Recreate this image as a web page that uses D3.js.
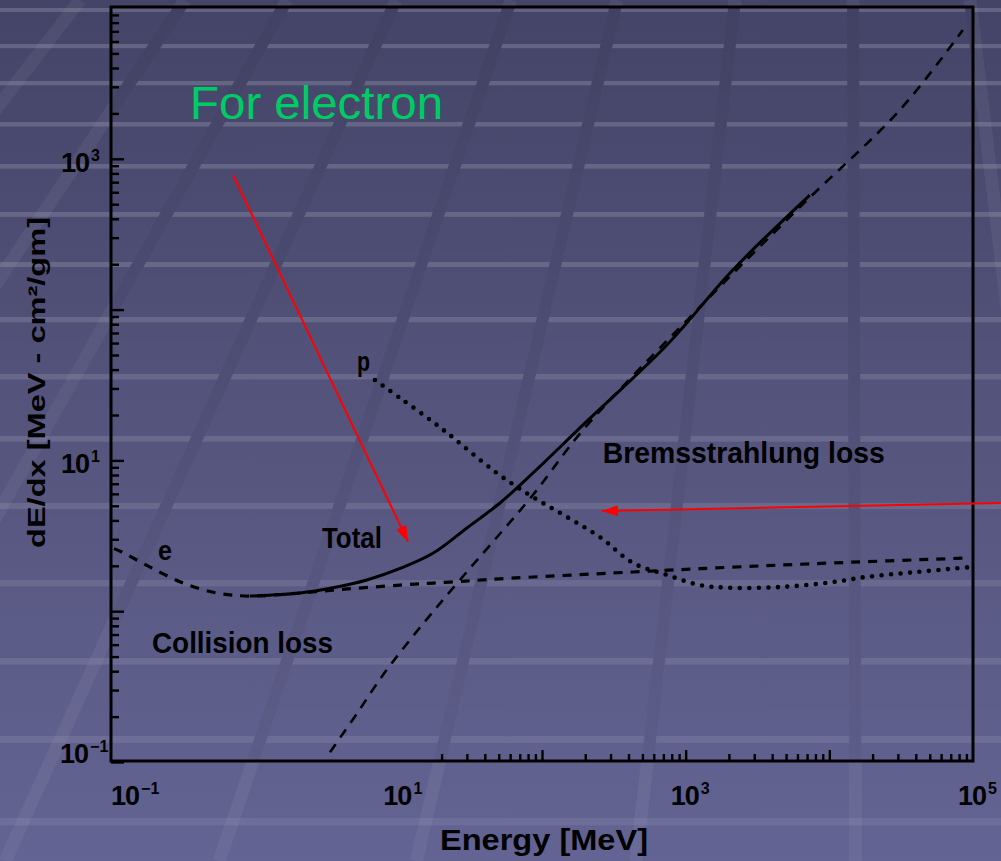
<!DOCTYPE html>
<html>
<head>
<meta charset="utf-8">
<script src="https://cdn.jsdelivr.net/npm/d3@7/dist/d3.min.js"></script>
<style>
html, body { margin: 0; padding: 0; background: #55557f; overflow: hidden; }
svg { display: block; }
</style>
</head>
<body>
<div id="chart"></div>
<script>
// energy in MeV, dE/dx in MeV cm^2/gm
var collisionE = [0.105, 0.119, 0.187, 0.317, 0.547, 0.927, 2.07, 3.51, 10.3, 22.9, 51, 430, 2130, 10600, 87700];
var collisionV = [2.6, 2.47, 1.96, 1.54, 1.32, 1.26, 1.32, 1.38, 1.49, 1.56, 1.64, 1.82, 1.96, 2.09, 2.25];

var bremsE = [3.34, 5.07, 7.82, 12.05, 17.4, 26.8, 45.5, 86.5, 193, 1256, 6240, 31000, 84900];
var bremsV = [0.116, 0.205, 0.378, 0.645, 0.989, 1.61, 2.88, 5.9, 15.9, 104, 479, 2110, 7140];

var totalE = [0.927, 2.07, 3.51, 6.04, 10.3, 17.4, 30, 51, 86.5, 193, 740, 2130, 7310];
var totalV = [1.26, 1.32, 1.43, 1.61, 1.92, 2.42, 3.56, 5.22, 8.25, 17.2, 58.2, 183, 575];

var protonE = [6.87, 10.3, 17.4, 22.9, 48.5, 86.5, 149, 253, 430, 740, 1256, 2130, 4750, 10600, 18200, 40600, 95000];
var protonV = [34.1, 25.9, 18.0, 14.7, 8.25, 5.71, 4.22, 3.10, 2.09, 1.74, 1.49, 1.43, 1.45, 1.56, 1.69, 1.82, 1.96];

var xTickExp = [-1, 1, 3, 5];
var yTickExp = [-1, 1, 3];

// curve labels [text, E, dE/dx, width]
var curveLabels = [
    ["Bremsstrahlung loss", 265, 9.6, 282],
    ["Total", 2.94, 2.62, 60],
    ["e", 0.212, 2.19, 14],
    ["Collision loss", 0.193, 0.528, 181],
    ["p", 5.15, 39.2, 13]
];

// red arrows [fromE, fromV, toE, toV]
var arrows = [
    [0.707, 781, 11.7, 2.88],
    [156000, 5.22, 261, 4.61]
];

var W = 1001, H = 861;
var x0 = 111, x1 = 973, y0 = 7, y1 = 761;

var svg = d3.select("#chart").append("svg")
    .attr("width", W)
    .attr("height", H);

var defs = svg.append("defs");

var grad = defs.append("linearGradient")
    .attr("id", "bg")
    .attr("gradientUnits", "userSpaceOnUse")
    .attr("x1", 0).attr("y1", 0).attr("x2", 0).attr("y2", H);
grad.append("stop").attr("offset", "0%").attr("stop-color", "#444468");
grad.append("stop").attr("offset", "55%").attr("stop-color", "#56567f");
grad.append("stop").attr("offset", "100%").attr("stop-color", "#646494");

svg.append("rect")
    .attr("width", W).attr("height", H)
    .attr("fill", "url(#bg)");

// slide background: light horizontal stripes
var stripeY = [10, 46, 83, 124, 166, 214, 264, 319, 376, 438, 505, 582, 660, 738, 820];
svg.append("g").selectAll("rect")
    .data(stripeY)
    .enter().append("rect")
    .attr("x", 0)
    .attr("y", function(d) { return d - 2; })
    .attr("width", W)
    .attr("height", function(d) { return 4 + d / 250; })
    .attr("fill", "#ffffff")
    .attr("opacity", function(d) { return 0.17 - d / 861 * 0.1; });

// slanted bands, darker inside the plot, lighter outside
defs.append("clipPath").attr("id", "inside")
    .append("rect").attr("x", x0).attr("y", y0).attr("width", x1 - x0).attr("height", y1 - y0);
defs.append("clipPath").attr("id", "outside")
    .append("path")
    .attr("clip-rule", "evenodd")
    .attr("d", "M0,0H" + W + "V" + H + "H0Z M" + x0 + "," + y0 + "H" + x1 + "V" + y1 + "H" + x0 + "Z");

var bandX = [-40, 80, 185, 287, 396, 511, 617, 735, 853, 970];
var vp = [850, -1000];
function bandLine(sel) {
    sel.attr("x1", function(d) { return d; })
        .attr("y1", 0)
        .attr("x2", function(d) { return d + (d - vp[0]) / (0 - vp[1]) * H; })
        .attr("y2", H);
}
var inside = svg.append("g").attr("clip-path", "url(#inside)");
inside.selectAll("line.cover").data(bandX).enter().append("line")
    .attr("class", "cover")
    .call(bandLine)
    .attr("stroke", "url(#bg)").attr("stroke-width", 12);
inside.selectAll("line.shade").data(bandX).enter().append("line")
    .attr("class", "shade")
    .call(bandLine)
    .attr("stroke", "#000000").attr("stroke-opacity", 0.04).attr("stroke-width", 12);
svg.append("g").attr("clip-path", "url(#outside)")
    .selectAll("line").data(bandX).enter().append("line")
    .call(bandLine)
    .attr("stroke", "#ffffff").attr("stroke-opacity", 0.05).attr("stroke-width", 13);

// scales
var x = d3.scaleLog().domain([0.1, 1e5]).range([x0, x1]);
var y = d3.scaleLog().domain([0.1, 1e4]).range([762, 8]);

// ticks
function decadeTicks(lo, hi) {
    var out = [];
    for (var p = lo; p < hi; p++) {
        for (var m = 2; m <= 9; m++) out.push(m * Math.pow(10, p));
    }
    return out;
}
var yMajor = [0.1, 1, 10, 100, 1000];
var yMinor = decadeTicks(-1, 4);
var xMajor = [100, 1000, 10000];
var xMinor = decadeTicks(1, 5).filter(function(d) { return d >= 20; });

function styleTicks(g) {
    g.select(".domain").remove();
    g.selectAll("line").attr("stroke", "#000").attr("stroke-width", 2.4);
}

svg.append("g").attr("transform", "translate(" + x0 + ",0)")
    .call(d3.axisLeft(y).tickValues(yMajor).tickSize(-13).tickFormat(""))
    .call(styleTicks);
svg.append("g").attr("transform", "translate(" + x0 + ",0)")
    .call(d3.axisLeft(y).tickValues(yMinor).tickSize(-8).tickFormat(""))
    .call(styleTicks);
svg.append("g").attr("transform", "translate(0," + y1 + ")")
    .call(d3.axisBottom(x).tickValues(xMajor).tickSize(-11).tickFormat(""))
    .call(styleTicks);
svg.append("g").attr("transform", "translate(0," + y1 + ")")
    .call(d3.axisBottom(x).tickValues(xMinor).tickSize(-7).tickFormat(""))
    .call(styleTicks);

// frame
svg.append("rect")
    .attr("x", x0).attr("y", y0)
    .attr("width", x1 - x0).attr("height", y1 - y0)
    .attr("fill", "none")
    .attr("stroke", "#000")
    .attr("stroke-width", 3);

var fontFam = "'Liberation Sans', Arial, sans-serif";

// tick labels: 10 with a raised exponent
function powerLabel(g, px, base, e) {
    var t = g.append("text")
        .attr("x", px).attr("y", base)
        .attr("font-family", fontFam).attr("font-weight", "bold");
    t.append("tspan")
        .attr("font-size", 27)
        .attr("letter-spacing", -1)
        .text("10");
    t.append("tspan")
        .attr("dx", 2).attr("dy", -11)
        .attr("font-size", 16)
        .text(e < 0 ? "\u2212" + (-e) : "" + e);
}

var ylab = svg.append("g");
yTickExp.forEach(function(e) {
    var v = Math.pow(10, e);
    var base = Math.min(y(v) + 13, 763);
    powerLabel(ylab, e < 0 ? 60 : 61, base, e);
});

var xlab = svg.append("g");
xTickExp.forEach(function(e) {
    var v = Math.pow(10, e);
    powerLabel(xlab, Math.max(x(v) - 15, x0), 805, e);
});

// axis titles
svg.append("text")
    .attr("x", 440).attr("y", 850)
    .attr("font-family", fontFam).attr("font-weight", "bold")
    .attr("font-size", 30)
    .attr("textLength", 208).attr("lengthAdjust", "spacingAndGlyphs")
    .text("Energy [MeV]");

svg.append("text")
    .attr("transform", "translate(45,548) rotate(-90)")
    .attr("font-family", fontFam).attr("font-weight", "bold")
    .attr("font-size", 24)
    .attr("textLength", 331).attr("lengthAdjust", "spacingAndGlyphs")
    .text("dE/dx [MeV - cm\u00b2/gm]");

// curves
function toPts(es, vs) {
    return es.map(function(e, i) { return [x(e), y(vs[i])]; });
}
var line = d3.line().curve(d3.curveCatmullRom.alpha(0.5));

var curves = svg.append("g").attr("fill", "none").attr("stroke", "#000");

curves.append("path")
    .attr("d", line(toPts(collisionE, collisionV)))
    .attr("stroke-width", 3.2)
    .attr("stroke-dasharray", "9,8");

curves.append("path")
    .attr("d", line(toPts(bremsE, bremsV)))
    .attr("stroke-width", 2.6)
    .attr("stroke-dasharray", "10,8");

curves.append("path")
    .attr("d", line(toPts(totalE, totalV)))
    .attr("stroke-width", 3);

curves.append("path")
    .attr("d", line(toPts(protonE, protonV)))
    .attr("stroke-width", 4.6)
    .attr("stroke-linecap", "round")
    .attr("stroke-dasharray", "0,9.5");

// curve labels
svg.append("g").selectAll("text")
    .data(curveLabels)
    .enter().append("text")
    .attr("x", function(d) { return x(d[1]); })
    .attr("y", function(d) { return y(d[2]); })
    .attr("font-family", fontFam).attr("font-weight", "bold")
    .attr("font-size", function(d) { return d[0].length === 1 ? 27 : 29; })
    .attr("textLength", function(d) { return d[3]; })
    .attr("lengthAdjust", "spacingAndGlyphs")
    .text(function(d) { return d[0]; });

// annotation
svg.append("text")
    .attr("x", x(0.355)).attr("y", y(1836))
    .attr("font-family", fontFam)
    .attr("font-size", 46)
    .attr("textLength", 253).attr("lengthAdjust", "spacingAndGlyphs")
    .attr("fill", "#00cc66")
    .text("For electron");

defs.append("marker")
    .attr("id", "arrow")
    .attr("markerUnits", "userSpaceOnUse")
    .attr("markerWidth", 18).attr("markerHeight", 14)
    .attr("viewBox", "0 -7 18 14")
    .attr("refX", 16).attr("refY", 0)
    .attr("orient", "auto")
    .append("path")
    .attr("d", "M0,-5.5L16,0L0,5.5Z")
    .attr("fill", "#ff0000");

svg.append("g").selectAll("line")
    .data(arrows)
    .enter().append("line")
    .attr("x1", function(d) { return x(d[0]); })
    .attr("y1", function(d) { return y(d[1]); })
    .attr("x2", function(d) { return x(d[2]); })
    .attr("y2", function(d) { return y(d[3]); })
    .attr("stroke", "#ff0000")
    .attr("stroke-width", 2)
    .attr("marker-end", "url(#arrow)");
</script>
</body>
</html>
